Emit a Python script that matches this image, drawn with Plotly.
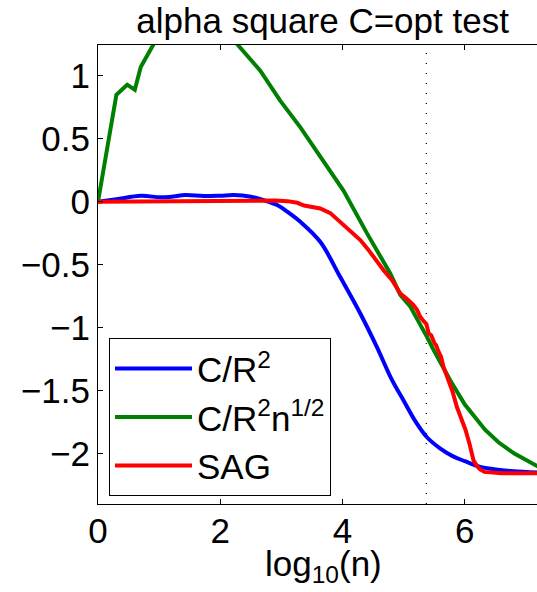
import plotly.graph_objects as go

# ---- data ----
blue_x = [0, 0.3, 0.7, 1.02, 1.2, 1.43, 1.73, 2.0, 2.22, 2.5, 2.71, 2.93, 3.1, 3.31,
          3.635, 3.96, 4.29, 4.56, 4.81, 5.0, 5.2, 5.38, 5.6, 5.8, 6.0, 6.25, 6.5, 6.8, 7.2]
blue_y = [0, 0.02, 0.048, 0.035, 0.04, 0.053, 0.045, 0.048, 0.053, 0.04, 0.013, -0.026, -0.08, -0.159,
          -0.318, -0.596, -0.887, -1.152, -1.417, -1.58, -1.75, -1.87, -1.96, -2.02, -2.06, -2.105, -2.125, -2.14, -2.15]

green_x = [0, 0.301, 0.477, 0.602, 0.699, 0.778, 0.845, 0.903, 1.0, 1.3, 1.6, 1.9, 2.273, 2.654,
           2.98, 3.31, 3.635, 4.017, 4.40, 4.78, 4.944, 5.11, 5.38, 5.49, 5.76, 6.0, 6.33, 6.55, 6.81, 7.18, 7.3]
green_y = [0, 0.85, 0.93, 0.89, 1.07, 1.14, 1.2, 1.26, 1.33, 1.45, 1.48, 1.42, 1.253, 1.041,
           0.803, 0.591, 0.353, 0.087, -0.251, -0.569, -0.74, -0.834, -1.073, -1.178, -1.417, -1.61, -1.81, -1.91, -2.0, -2.105, -2.13]

red_x = [0, 0.5, 1.0, 1.5, 2.0, 2.5, 2.71, 2.9, 3.1, 3.26, 3.37, 3.5, 3.635, 3.8, 3.96, 4.1,
         4.29, 4.42, 4.56, 4.68, 4.81, 4.944, 5.05, 5.10, 5.16, 5.22, 5.27, 5.33, 5.37, 5.41,
         5.45, 5.50, 5.53, 5.57, 5.61, 5.65, 5.73, 5.80, 5.87, 5.95, 6.01, 6.08, 6.14, 6.20,
         6.25, 6.32, 6.42, 6.6, 7.0, 7.3]
red_y = [0, 0.002, 0.004, 0.006, 0.008, 0.011, 0.013, 0.01, 0.005, -0.008, -0.03, -0.04, -0.053, -0.09, -0.159, -0.22,
         -0.304, -0.38, -0.477, -0.55, -0.622, -0.728, -0.77, -0.79, -0.821, -0.86, -0.914, -0.95, -0.97, -1.046,
         -1.06, -1.12, -1.14, -1.19, -1.23, -1.31, -1.417, -1.51, -1.63, -1.73, -1.81, -1.93, -2.05, -2.10,
         -2.126, -2.145, -2.15, -2.155, -2.155, -2.155]

marker_x = 5.37
x_range = [0, 7.18]
y_range = [-2.4, 1.245]
x_ticks = [0, 2, 4, 6]
y_ticks = [-2, -1.5, -1, -0.5, 0, 0.5, 1]

FONT = "Liberation Sans, Arial, Helvetica, sans-serif"
FS = 35

fig = go.Figure()
fig.add_trace(go.Scatter(x=[marker_x, marker_x], y=y_range, mode="lines",
                         line=dict(color="black", width=1.2, dash="1px,9px"),
                         showlegend=False, hoverinfo="skip"))
fig.add_trace(go.Scatter(x=blue_x, y=blue_y, mode="lines", name="C/R<sup>2</sup>",
                         line=dict(color="#0000ff", width=4, shape="spline", smoothing=1.0)))
fig.add_trace(go.Scatter(x=green_x, y=green_y, mode="lines", name="C/R<sup>2</sup>n<sup>1/2</sup>",
                         line=dict(color="#008000", width=4)))
fig.add_trace(go.Scatter(x=red_x, y=red_y, mode="lines", name="SAG",
                         line=dict(color="#ff0000", width=4)))

fig.add_annotation(text="log<sub>10</sub>(n)", xref="paper", yref="paper",
                   x=(323 - 98) / 439, y=(504 - 590) / 459, xanchor="center", yanchor="bottom",
                   showarrow=False, font=dict(family=FONT, size=FS, color="black"))

fig.update_layout(
    template="none",
    width=537, height=592,
    margin=dict(l=98, r=0, t=45, b=88, autoexpand=False),
    paper_bgcolor="white", plot_bgcolor="white",
    font=dict(family=FONT, size=FS, color="black"),
    title=dict(text="alpha square C=opt test", x=322.6 / 537, xanchor="center",
               xref="container", yref="container", y=1 - 33.3 / 592, yanchor="bottom",
               font=dict(family=FONT, size=FS, color="black")),
    xaxis=dict(range=x_range, tickvals=x_ticks, ticks="inside", ticklen=5, tickwidth=1,
               tickcolor="black", showline=True, linecolor="black", linewidth=1.2,
               mirror="ticks", showgrid=False, zeroline=False, automargin=False,
               ticklabelstandoff=-4),
    yaxis=dict(range=y_range, tickvals=y_ticks, ticks="inside", ticklen=5, tickwidth=1,
               tickcolor="black", showline=True, linecolor="black", linewidth=1.2,
               mirror=False, showgrid=False, zeroline=False, automargin=False),
    legend=dict(x=(109 - 98) / 439, y=(504 - 338.3) / 459, xanchor="left", yanchor="top",
                bgcolor="white", bordercolor="black", borderwidth=1,
                font=dict(family=FONT, size=35), itemwidth=77, tracegroupgap=0),
    showlegend=True,
)

fig.write_html("out.html", config={"displayModeBar": False},
               post_script="document.body.style.margin='0';document.body.style.overflow='hidden';")
